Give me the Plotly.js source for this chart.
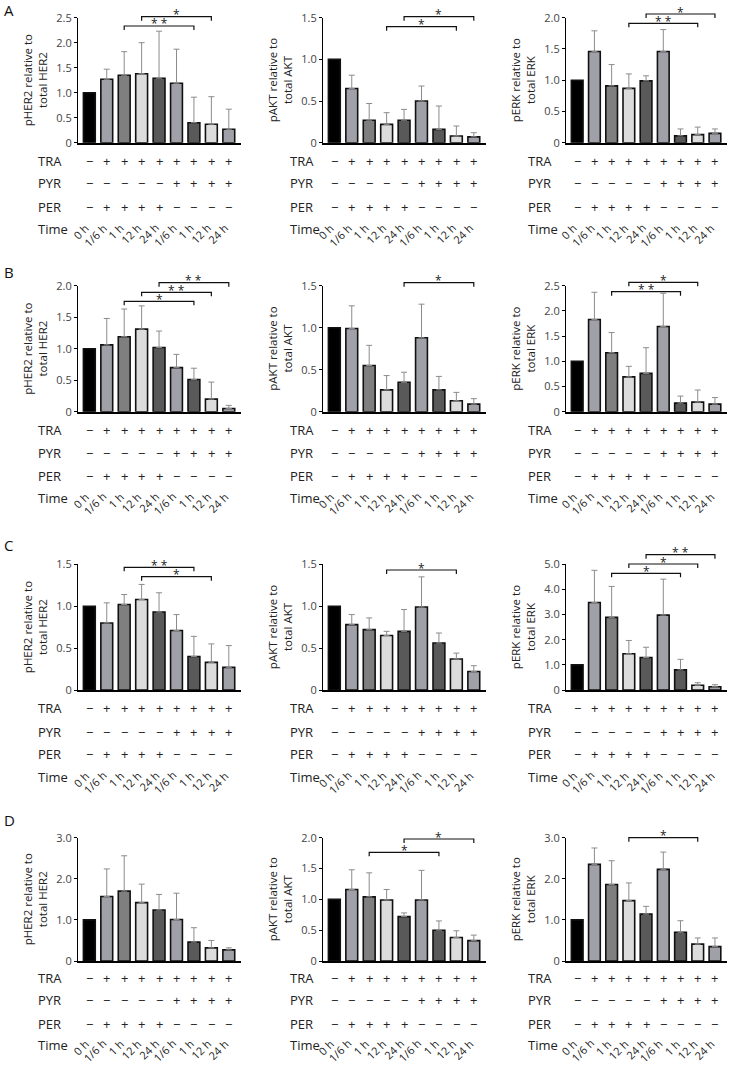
<!DOCTYPE html>
<html>
<head>
<meta charset="utf-8">
<script src="https://cdn.plot.ly/plotly-3.0.1.min.js"></script>
<style>
  body { margin: 0; background: #fff; }
  #plot { width: 735px; height: 1068px; }
</style>
</head>
<body>
<div id="plot"></div>
<script>
// conditions (same for every panel)
var TIME = ['0 h', '1/6 h', '1 h', '12 h', '24 h', '1/6 h', '1 h', '12 h', '24 h'];
var TRA = ['\u2212', '+', '+', '+', '+', '+', '+', '+', '+'];
var PYR = ['\u2212', '\u2212', '\u2212', '\u2212', '\u2212', '+', '+', '+', '+'];
var PER = ['\u2212', '+', '+', '+', '+', '\u2212', '\u2212', '\u2212', '\u2212'];

// A
var A_HER2 = [1.0, 1.27, 1.35, 1.38, 1.29, 1.19, 0.40, 0.37, 0.27];
var A_HER2_sd = [0, 0.20, 0.47, 0.62, 0.94, 0.68, 0.51, 0.55, 0.40];
var A_AKT = [1.0, 0.65, 0.27, 0.22, 0.27, 0.50, 0.16, 0.08, 0.07];
var A_AKT_sd = [0, 0.16, 0.20, 0.14, 0.13, 0.18, 0.28, 0.12, 0.05];
var A_ERK = [1.0, 1.46, 0.91, 0.87, 0.99, 1.46, 0.11, 0.13, 0.15];
var A_ERK_sd = [0, 0.33, 0.34, 0.23, 0.08, 0.35, 0.11, 0.12, 0.07];
// B
var B_HER2 = [1.0, 1.06, 1.19, 1.31, 1.02, 0.70, 0.51, 0.20, 0.05];
var B_HER2_sd = [0, 0.42, 0.44, 0.37, 0.26, 0.21, 0.18, 0.27, 0.05];
var B_AKT = [1.0, 0.99, 0.55, 0.26, 0.35, 0.88, 0.26, 0.13, 0.09];
var B_AKT_sd = [0, 0.27, 0.24, 0.17, 0.12, 0.40, 0.16, 0.10, 0.065];
var B_ERK = [1.0, 1.83, 1.17, 0.69, 0.76, 1.69, 0.17, 0.19, 0.15];
var B_ERK_sd = [0, 0.54, 0.40, 0.21, 0.51, 0.66, 0.14, 0.24, 0.13];
// C
var C_HER2 = [1.0, 0.80, 1.02, 1.08, 0.93, 0.71, 0.40, 0.33, 0.27];
var C_HER2_sd = [0, 0.24, 0.12, 0.18, 0.23, 0.19, 0.24, 0.22, 0.26];
var C_AKT = [1.0, 0.78, 0.72, 0.65, 0.70, 0.99, 0.56, 0.37, 0.22];
var C_AKT_sd = [0, 0.12, 0.14, 0.05, 0.26, 0.36, 0.12, 0.07, 0.07];
var C_ERK = [1.0, 3.48, 2.89, 1.44, 1.29, 2.98, 0.80, 0.19, 0.13];
var C_ERK_sd = [0, 1.28, 1.23, 0.53, 0.41, 1.43, 0.42, 0.10, 0.08];
// D
var D_HER2 = [1.0, 1.57, 1.70, 1.42, 1.24, 1.01, 0.46, 0.32, 0.27];
var D_HER2_sd = [0, 0.67, 0.86, 0.45, 0.38, 0.64, 0.35, 0.18, 0.05];
var D_AKT = [1.0, 1.16, 1.04, 0.99, 0.72, 0.99, 0.50, 0.38, 0.33];
var D_AKT_sd = [0, 0.32, 0.39, 0.17, 0.06, 0.48, 0.15, 0.11, 0.09];
var D_ERK = [1.0, 2.35, 1.86, 1.47, 1.14, 2.23, 0.70, 0.41, 0.35];
var D_ERK_sd = [0, 0.40, 0.58, 0.43, 0.19, 0.42, 0.28, 0.15, 0.21];

var barColors = ['#000000', '#a0a0a8', '#7f7f7f', '#dcdcdc', '#595959',
                 '#a0a0a8', '#595959', '#dcdcdc', '#a0a0a8'];

var T_HER2 = 'pHER2 relative to<br>total HER2';
var T_AKT = 'pAKT relative to<br>total AKT';
var T_ERK = 'pERK relative to<br>total ERK';

// sig: [from, to, label, bracket y in px]
var panels = [
  {row: 0, col: 0, y: A_HER2, sd: A_HER2_sd, title: T_HER2, ymax: 2.5, step: 0.5, sig: [[2, 6, '* *', 26], [3, 7, '*', 16.7]]},
  {row: 0, col: 1, y: A_AKT, sd: A_AKT_sd, title: T_AKT, ymax: 1.5, step: 0.5, sig: [[3, 7, '*', 26.7], [4, 8, '*', 16.7]]},
  {row: 0, col: 2, y: A_ERK, sd: A_ERK_sd, title: T_ERK, ymax: 2.0, step: 0.5, sig: [[3, 7, '* *', 23.3], [4, 8, '*', 14]]},
  {row: 1, col: 0, y: B_HER2, sd: B_HER2_sd, title: T_HER2, ymax: 2.0, step: 0.5, sig: [[2, 6, '*', 301.3], [3, 7, '* *', 292.3], [4, 8, '* *', 282.7]]},
  {row: 1, col: 1, y: B_AKT, sd: B_AKT_sd, title: T_AKT, ymax: 1.5, step: 0.5, sig: [[4, 8, '*', 282.7]]},
  {row: 1, col: 2, y: B_ERK, sd: B_ERK_sd, title: T_ERK, ymax: 2.5, step: 0.5, sig: [[2, 6, '* *', 291.7], [3, 7, '*', 282.3]]},
  {row: 2, col: 0, y: C_HER2, sd: C_HER2_sd, title: T_HER2, ymax: 1.5, step: 0.5, sig: [[2, 6, '* *', 567.3], [3, 7, '*', 576.7]]},
  {row: 2, col: 1, y: C_AKT, sd: C_AKT_sd, title: T_AKT, ymax: 1.5, step: 0.5, sig: [[3, 7, '*', 570]]},
  {row: 2, col: 2, y: C_ERK, sd: C_ERK_sd, title: T_ERK, ymax: 5.0, step: 1.0, sig: [[2, 6, '*', 573.3], [3, 7, '*', 564], [4, 8, '* *', 554.7]]},
  {row: 3, col: 0, y: D_HER2, sd: D_HER2_sd, title: T_HER2, ymax: 3.0, step: 1.0, sig: []},
  {row: 3, col: 1, y: D_AKT, sd: D_AKT_sd, title: T_AKT, ymax: 2.0, step: 0.5, sig: [[2, 6, '*', 852.3], [4, 8, '*', 839]]},
  {row: 3, col: 2, y: D_ERK, sd: D_ERK_sd, title: T_ERK, ymax: 3.0, step: 1.0, sig: [[3, 7, '*', 837.7]]}
];

// page geometry in px
var W = 735, H = 1068;
function px(x) { return x / W; }
function py(y) { return 1 - y / H; }
var colX = [[78, 241], [323, 486], [566, 727]];
var rowY = [[17.7, 142.7], [285.7, 411.7], [564.3, 690], [837.7, 961]];
// y of TRA, PYR, PER, Time rows
var tableY = [[161, 183.3, 206.7, 229.3], [430, 452.7, 476, 498],
              [708.3, 731.7, 754, 776.7], [977.7, 1000, 1023.7, 1045]];
var labelX = [36, 288, 526];
var letters = [['A', 10], ['B', 272], ['C', 545], ['D', 820]];

var FONT = 'Open Sans, Noto Sans, sans-serif';
var idx = TIME.map(function (t, i) { return i; });

var traces = [], annotations = [], shapes = [];
var layout = {
  width: W, height: H,
  margin: {l: 0, r: 0, t: 0, b: 0},
  paper_bgcolor: '#fff', plot_bgcolor: '#fff',
  showlegend: false,
  font: {family: FONT, color: '#222'}
};

panels.forEach(function (p, i) {
  var sfx = i === 0 ? '' : String(i + 1);
  var xa = 'x' + sfx, ya = 'y' + sfx;
  var cx = colX[p.col], ry = rowY[p.row], ty = tableY[p.row];

  var tv = [], tt = [];
  for (var v = 0; v <= p.ymax + 1e-9; v += p.step) {
    tv.push(v);
    tt.push(v === 0 ? '0' : v.toFixed(1));
  }

  layout['xaxis' + sfx] = {
    domain: [px(cx[0]), px(cx[1])], anchor: ya,
    range: [-0.65, 8.7], fixedrange: true,
    showline: true, linecolor: '#000', linewidth: 1.8,
    showgrid: false, zeroline: false, ticks: '', showticklabels: false
  };
  layout['yaxis' + sfx] = {
    domain: [py(ry[1]), py(ry[0])], anchor: xa,
    range: [0, p.ymax], fixedrange: true,
    showline: true, linecolor: '#000', linewidth: 1,
    showgrid: false, zeroline: false,
    ticks: 'outside', ticklen: 3, tickwidth: 1, tickcolor: '#000',
    tickmode: 'array', tickvals: tv, ticktext: tt,
    tickfont: {size: 11, color: '#444', family: FONT}
  };

  // y-axis title, two lines, rotated
  annotations.push({xref: 'paper', yref: 'paper', x: px(cx[0] - 43), y: py((ry[0] + ry[1]) / 2),
    xanchor: 'center', yanchor: 'middle', textangle: -90, borderpad: 0,
    text: p.title, showarrow: false, font: {size: 11.5, color: '#222'}});

  traces.push({
    type: 'bar', x: idx, y: p.y, xaxis: xa, yaxis: ya,
    width: 0.68,
    marker: {color: barColors, line: {color: '#111', width: 1.6}},
    error_y: {
      type: 'data', symmetric: false,
      array: p.sd.map(function (e) { return e > 0 ? e : NaN; }),
      color: '#8c8c8c', thickness: 1, width: 3
    },
    hoverinfo: 'skip'
  });

  // condition table
  [[TRA, 'TRA', ty[0]], [PYR, 'PYR', ty[1]], [PER, 'PER', ty[2]]].forEach(function (r) {
    var yy = py(r[2]);
    annotations.push({xref: 'paper', yref: 'paper', x: px(labelX[p.col]), y: yy,
      xanchor: 'left', yanchor: 'middle', text: r[1], showarrow: false,
      font: {size: 13, color: '#222'}});
    r[0].forEach(function (s, k) {
      annotations.push({xref: xa, yref: 'paper', x: k, y: yy,
        xanchor: 'center', yanchor: 'middle', text: s, showarrow: false,
        font: {size: 13, color: '#222'}});
    });
  });
  annotations.push({xref: 'paper', yref: 'paper', x: px(labelX[p.col]), y: py(ty[3]),
    xanchor: 'left', yanchor: 'middle', text: 'Time', showarrow: false,
    font: {size: 13, color: '#222'}});
  // rotated time labels, right end at the bar centre
  TIME.forEach(function (t, k) {
    annotations.push({xref: xa, yref: 'paper', x: k, y: py(ty[3] - 10),
      xanchor: 'right', yanchor: 'top', xshift: 4, textangle: -45, borderpad: 0,
      text: t, showarrow: false, font: {size: 11, color: '#222'}});
  });

  // significance brackets
  p.sig.forEach(function (s) {
    var yl = py(s[3]), yt = py(s[3] + 4);
    shapes.push({type: 'path', xref: xa, yref: 'paper',
      path: 'M' + s[0] + ',' + yt + ' L' + s[0] + ',' + yl + ' L' + s[1] + ',' + yl + ' L' + s[1] + ',' + yt,
      line: {color: '#111', width: 1.2}});
    annotations.push({xref: xa, yref: 'paper', x: (s[0] + s[1]) / 2, y: yl,
      xanchor: 'center', yanchor: 'middle', yshift: 2, text: s[2], showarrow: false,
      font: {size: 12, color: '#222'}});
  });
});

letters.forEach(function (l) {
  annotations.push({xref: 'paper', yref: 'paper', x: px(2), y: py(l[1]),
    xanchor: 'left', yanchor: 'middle', text: l[0], showarrow: false,
    font: {size: 15, color: '#111'}});
});

layout.annotations = annotations;
layout.shapes = shapes;

Plotly.newPlot('plot', traces, layout, {staticPlot: true});
</script>
</body>
</html>
